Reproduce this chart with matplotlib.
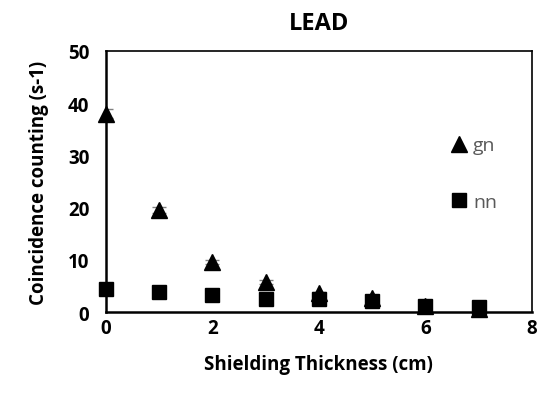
import matplotlib
matplotlib.use("Agg")
import matplotlib.pyplot as plt
from matplotlib.lines import Line2D

thickness = [0, 1, 2, 3, 4, 5, 6, 7]
gn = [38.0, 19.5, 9.6, 5.7, 3.6, 2.6, 1.2, 0.5]
nn = [4.4, 3.8, 3.2, 2.5, 2.4, 2.2, 1.1, 1.0]
gn_err = [0.8, 0.6, 0.4, 0.4, 0.3, 0.3, 0.2, 0.2]
nn_err = [0.3, 0.3, 0.3, 0.3, 0.3, 0.3, 0.2, 0.2]

xticks = [0, 2, 4, 6, 8]
yticks = [0, 10, 20, 30, 40, 50]

plt.rcParams['font.family'] = ['Open Sans', 'DejaVu Sans']

fig = plt.figure(figsize=(5.41, 4.06), dpi=100)
ax = fig.add_axes([0.196, 0.229, 0.787, 0.643])

for y, e, m, ms in [(gn, gn_err, '^', 11), (nn, nn_err, 's', 10)]:
    cont = ax.errorbar(thickness, y, yerr=e, fmt=m, color='black', markersize=ms,
                       ecolor='#808080', elinewidth=1, capsize=5, zorder=3)
    for art in cont.lines[0:1]:
        art.set_clip_on(False)

ax.set_xlim(0, 8)
ax.set_ylim(0, 50)
ax.set_xticks(xticks)
ax.set_yticks(yticks)
ax.tick_params(length=0, labelsize=13.5)
ax.tick_params(axis='x', pad=4)
ax.tick_params(axis='y', pad=12)
for lab in ax.get_xticklabels() + ax.get_yticklabels():
    lab.set_fontweight('bold')

for s in ['left', 'bottom']:
    ax.spines[s].set_linewidth(1.8)
for s in ['top', 'right']:
    ax.spines[s].set_linewidth(1.2)

ax.set_title('LEAD', fontsize=17, fontweight='bold', pad=16)
ax.set_xlabel('Shielding Thickness (cm)', fontsize=13.5, fontweight='bold', labelpad=12)
ax.set_ylabel('Coincidence counting (s-1)', fontsize=13.5, fontweight='bold', labelpad=14)

handles = [Line2D([], [], marker='^', color='black', linestyle='none', markersize=11),
           Line2D([], [], marker='s', color='black', linestyle='none', markersize=10)]
leg = ax.legend(handles, ['gn', 'nn'], loc='upper left', bbox_to_anchor=(0.775, 0.74),
                frameon=False, handlelength=0.6, handletextpad=0.4, labelspacing=2.0,
                fontsize=14)
for t in leg.get_texts():
    t.set_color('#595959')

fig.savefig('out.png', dpi=100)
